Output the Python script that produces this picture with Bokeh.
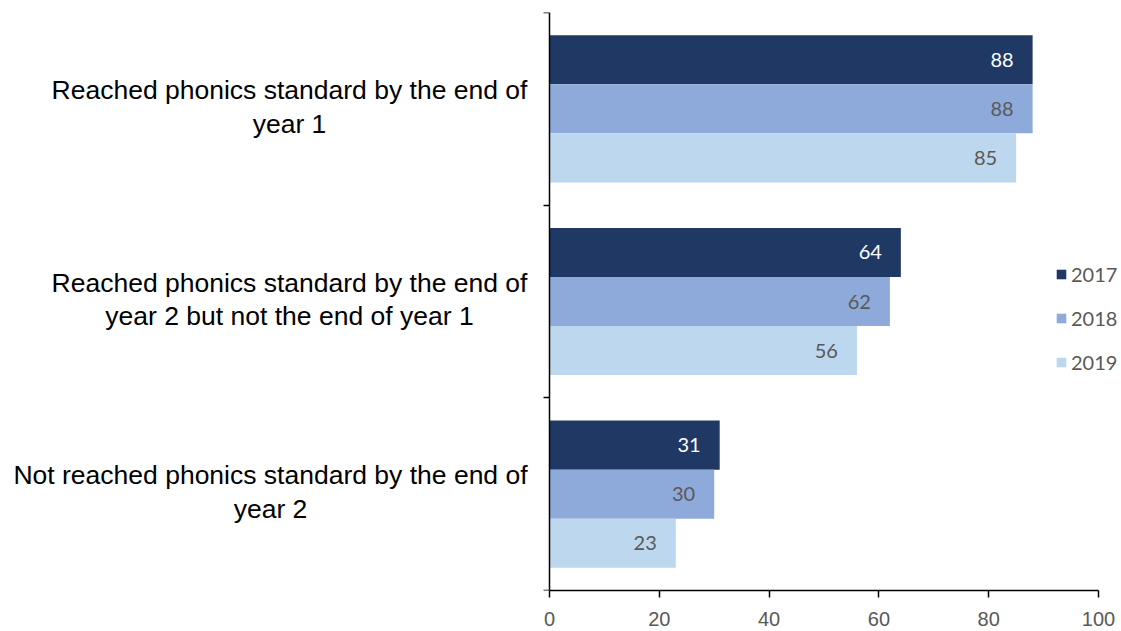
from bokeh.plotting import figure
from bokeh.models import (Range1d, FixedTicker, LabelSet, ColumnDataSource,
                          Legend, LegendItem, LinearAxis)
from bokeh.embed import file_html
from bokeh.resources import INLINE
from bokeh.core.properties import value

categories = [
    "Reached phonics standard by the end of\nyear 1",
    "Reached phonics standard by the end of\nyear 2 but not the end of year 1",
    "Not reached phonics standard by the end of\nyear 2",
]
years = ["2017", "2018", "2019"]
values_2017 = [88, 64, 31]
values_2018 = [88, 62, 30]
values_2019 = [85, 56, 23]
x_ticks = [0, 20, 40, 60, 80, 100]

series = [values_2017, values_2018, values_2019]
colors = ["#1F3864", "#8EAADB", "#BDD7EE"]
label_colors = ["#FFFFFF", "#595959", "#595959"]
cat_offsets = [-260, -260, -279]   # screen px from the value axis to label centre

W, H = 1121, 631
left_border = 8
axis_px = 549          # screen x of value 0
px_per_unit = 5.49
x_start = -(axis_px - left_border) / px_per_unit
x_end = (W - axis_px) / px_per_unit

p = figure(width=W, height=H, output_backend="svg", toolbar_location=None,
           x_range=Range1d(x_start, x_end), y_range=Range1d(len(categories), 0),
           y_axis_location=None,
           min_border_left=left_border, min_border_right=0, min_border_top=12,
           min_border_bottom=41)
p.outline_line_color = None
p.xgrid.visible = False
p.ygrid.visible = False

bar_h = 0.2545
renderers = []
for k, (yr, vals) in enumerate(zip(years, series)):
    ys = [i + 0.5 + (k - 1) * bar_h for i in range(len(categories))]
    src = ColumnDataSource(dict(y=ys, x=vals, t=[str(v) for v in vals]))
    r = p.hbar(y="y", right="x", left=0, height=bar_h, source=src,
               fill_color=colors[k], line_color=None)
    renderers.append(r)
    ls = LabelSet(x="x", y="y", text="t", source=src, x_offset=-19,
                  text_align="right", text_baseline="middle",
                  text_color=label_colors[k], text_font=value("Lato"),
                  text_font_size="20px")
    p.add_layout(ls)

cat_src = ColumnDataSource(dict(x=[0] * len(categories),
                                y=[i + 0.5 for i in range(len(categories))],
                                t=categories, dx=cat_offsets))
p.text(x="x", y="y", text="t", x_offset="dx", y_offset=-2, source=cat_src,
       text_align="center", text_baseline="middle",
       text_font=value("Liberation Sans"), text_font_size=value("26.5px"),
       text_color="#000000", text_line_height=1.12)

# value axis
p.xaxis.ticker = FixedTicker(ticks=x_ticks)
p.xaxis.bounds = (0, 100)
p.xaxis.major_tick_in = 0
p.xaxis.major_tick_out = 7
p.xaxis.minor_tick_line_color = None
p.xaxis.axis_line_color = "#000000"
p.xaxis.axis_line_width = 1.5
p.xaxis.major_tick_line_color = "#000000"
p.xaxis.major_tick_line_width = 1.5
p.xaxis.major_label_text_font = "Liberation Sans"
p.xaxis.major_label_text_font_size = "20px"
p.xaxis.major_label_text_color = "#595959"
p.xaxis.major_label_standoff = 14

# category axis line with boundary ticks, fixed at value 0 (no tick labels)
bounds_ticks = list(range(len(categories) + 1))
yax = LinearAxis(ticker=FixedTicker(ticks=bounds_ticks),
                 fixed_location=0, major_tick_in=0, major_tick_out=6,
                 minor_tick_line_color=None, axis_line_color="#000000",
                 axis_line_width=1.5, major_tick_line_color="#000000",
                 major_tick_line_width=1.5,
                 major_label_overrides={t: "" for t in bounds_ticks},
                 major_label_text_font_size="10px",
                 major_label_standoff=0)
p.add_layout(yax, "left")

legend = Legend(items=[LegendItem(label=yr, renderers=[r]) for yr, r in zip(years, renderers)],
                location=(1055 - left_border, 216), orientation="vertical",
                glyph_width=12, glyph_height=12, label_standoff=4,
                label_height=12, spacing=20, padding=0, margin=0,
                border_line_color=None, background_fill_alpha=0,
                label_text_font="Lato", label_text_font_size="20px",
                label_text_color="#595959")
p.add_layout(legend, "center")

open("out.html", "w").write(file_html(p, INLINE))
